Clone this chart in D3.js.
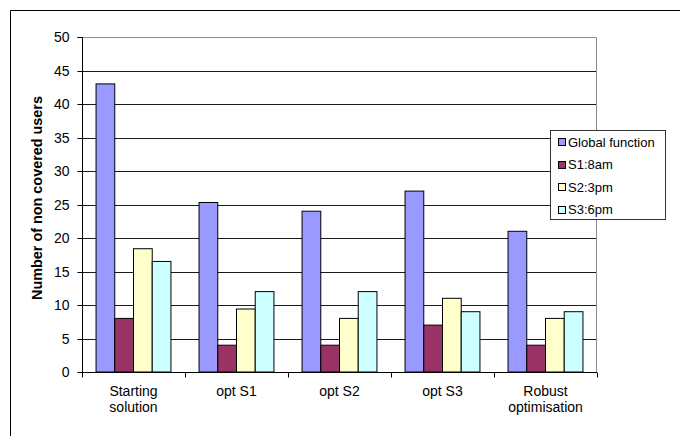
<!DOCTYPE html>
<html><head><meta charset="utf-8">
<script src="https://cdn.jsdelivr.net/npm/d3@7"></script>
<style>body{margin:0;background:#fff}svg{display:block}text{font-family:"Liberation Sans",Arial,sans-serif}</style>
</head><body><svg id="c" width="680" height="436"></svg>
<script>
const categories = [["Starting","solution"],["opt S1"],["opt S2"],["opt S3"],["Robust","optimisation"]];
const seriesNames = ["Global function","S1:8am","S2:3pm","S3:6pm"];
const seriesColors = ["#9999FF","#993366","#FFFFCC","#CCFFFF"];
const globalFunction = [43, 25.3, 24, 27, 21];
const s1 = [8, 4, 4, 7, 4];
const s2 = [18.4, 9.4, 8, 11, 8];
const s3 = [16.5, 12, 12, 9, 9];
const yTicks = [0,5,10,15,20,25,30,35,40,45,50];
const yLabel = "Number of non covered users";

const series = [globalFunction, s1, s2, s3];
const svg = d3.select("#c");
const L = 82, T = 37, R = 597, B = 372;

// outer frame
svg.append("path").attr("d","M10.5,436 V10.5 H680").attr("fill","none").attr("stroke","#000");

const x = d3.scaleBand().domain(d3.range(categories.length)).range([L,R]).paddingInner(0).paddingOuter(0);
const y = d3.scaleLinear().domain([0,50]).range([B,T]);
// group of 4 bars with gap width 150%: bar width = band/5.5
const bw = x.bandwidth()/5.5;

// gridlines
svg.append("g").selectAll("line").data(yTicks.filter(d=>d>0 && d<50)).join("line")
  .attr("x1",L).attr("x2",R).attr("y1",d=>Math.round(y(d))+0.5).attr("y2",d=>Math.round(y(d))+0.5)
  .attr("stroke","#1a1a1a").attr("stroke-width",1);
// plot border top/right gray
svg.append("path").attr("d",`M${L},${Math.round(y(50))+0.5} H${R-0.5} V${B}`).attr("fill","none").attr("stroke","#8c8c8c");

// bars
series.forEach((vals,si)=>{
  svg.append("g").selectAll("rect").data(vals).join("rect")
    .attr("x",(d,i)=>x(i)+bw*0.75+si*bw)
    .attr("y",d=>y(d))
    .attr("width",bw)
    .attr("height",d=>B-y(d))
    .attr("fill",seriesColors[si]).attr("stroke","#000").attr("stroke-width",1);
});

// y axis
const ya = svg.append("g").attr("transform",`translate(${L+0.5},0)`)
  .call(d3.axisLeft(y).tickValues(yTicks).tickSize(5).tickPadding(8));
ya.select(".domain").attr("stroke","#000").attr("d",`M-5,${Math.round(y(50))+0.5}H0V${B+0.5}`);
ya.selectAll(".tick line").attr("stroke","#000");
ya.selectAll(".tick").attr("transform",d=>`translate(0,${Math.round(y(d))+0.5})`);
ya.selectAll("text").attr("font-size",14).attr("font-family","Liberation Sans, Arial, sans-serif").attr("fill","#000");

// x axis
const xa = svg.append("g").attr("transform",`translate(0,${B+0.5})`);
xa.append("line").attr("x1",L).attr("x2",R).attr("stroke","#000");
xa.selectAll("line.t").data(d3.range(categories.length+1)).join("line")
  .attr("x1",i=>Math.round(L+i*x.bandwidth())+0.5).attr("x2",i=>Math.round(L+i*x.bandwidth())+0.5)
  .attr("y1",0).attr("y2",5).attr("stroke","#000");
categories.forEach((lines,i)=>{
  const t = svg.append("text").attr("text-anchor","middle").attr("font-size",14).attr("fill","#000")
    .attr("x",x(i)+x.bandwidth()/2).attr("y",396);
  lines.forEach((ln,k)=>t.append("tspan").attr("x",x(i)+x.bandwidth()/2).attr("dy",k?16:0).text(ln));
});

// y label
svg.append("text").attr("transform","translate(42,198) rotate(-90)").attr("text-anchor","middle")
  .attr("font-size",14.4).attr("font-weight","bold").attr("fill","#000").text(yLabel);

// legend
const lg = svg.append("g");
lg.append("rect").attr("x",550.5).attr("y",130.5).attr("width",115).attr("height",89)
  .attr("fill","#fff").attr("stroke","#333");
seriesNames.forEach((n,i)=>{
  const cy = 141.5 + i*22.6;
  lg.append("rect").attr("x",558.5).attr("y",Math.round(cy-3.5)+0.5).attr("width",7).attr("height",7)
    .attr("fill",seriesColors[i]).attr("stroke","#000");
  lg.append("text").attr("x",568).attr("y",cy+5).attr("font-size",13).attr("fill","#000").text(n);
});
</script></body></html>
